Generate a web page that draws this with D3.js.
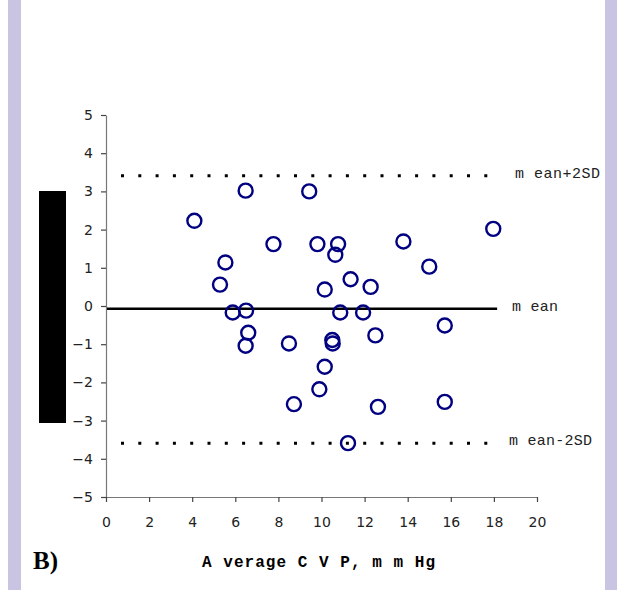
<!DOCTYPE html>
<html>
<head>
<meta charset="utf-8">
<script src="https://cdn.jsdelivr.net/npm/d3@7"></script>
<style>
  body { margin: 0; background: #fff; }
  svg { display: block; }
</style>
</head>
<body>
<div id="chart"></div>
<script>
// Bland-Altman Daten (Mittelwert CVP vs. Differenz)
const avgCvp = [4.1, 6.48, 9.43, 7.77, 9.81, 10.77, 10.64, 13.8, 15.0, 17.97,
  5.54, 5.29, 11.35, 12.28, 10.15, 5.88, 6.5, 10.87, 11.93, 6.6,
  6.48, 8.49, 10.5, 10.52, 12.5, 15.72, 10.15, 9.9, 8.72, 12.62, 15.72, 11.23];
const diffCvp = [2.23, 3.02, 3.0, 1.62, 1.62, 1.62, 1.34, 1.69, 1.03, 2.02,
  1.14, 0.56, 0.7, 0.5, 0.43, -0.17, -0.12, -0.17, -0.17, -0.7,
  -1.04, -0.98, -0.89, -0.98, -0.77, -0.51, -1.59, -2.18, -2.57, -2.64, -2.51, -3.59];

const xTicks = [0, 2, 4, 6, 8, 10, 12, 14, 16, 18, 20];
const yTicks = [-5, -4, -3, -2, -1, 0, 1, 2, 3, 4, 5];

// Referenzlinien: Mittelwert und +/- 2SD
const refLines = [
  { name: "mean+2SD", label: "m ean+2SD", value: 3.41, dotted: true },
  { name: "mean", label: "m ean", value: -0.07, dotted: false },
  { name: "mean-2SD", label: "m ean-2SD", value: -3.59, dotted: true }
];

const width = 617, height = 590;

const svg = d3.select("#chart").append("svg")
  .attr("width", width)
  .attr("height", height);

// seitliche Balken (Folienrahmen)
svg.append("rect").attr("x", 8).attr("y", 0).attr("width", 13).attr("height", height).attr("fill", "#c8c4e2");
svg.append("rect").attr("x", 605).attr("y", 0).attr("width", 12).attr("height", height).attr("fill", "#c8c4e2");

// schwarzer Block links (verdeckte Achsenbeschriftung)
svg.append("rect").attr("x", 39).attr("y", 191).attr("width", 27).attr("height", 232).attr("fill", "#000");

const x = d3.scaleLinear().domain([0, 20]).range([106, 537]);
const y = d3.scaleLinear().domain([-5, 5]).range([497, 115]);

const yAxis = svg.append("g")
  .attr("transform", `translate(${x(0)},0)`)
  .call(d3.axisLeft(y).tickValues(yTicks).tickSize(5).tickSizeOuter(0).tickPadding(8));

const xAxis = svg.append("g")
  .attr("transform", `translate(0,${y(-5)})`)
  .call(d3.axisBottom(x).tickValues(xTicks).tickSize(5).tickSizeOuter(0).tickPadding(15));

[xAxis, yAxis].forEach(ax => {
  ax.select(".domain").attr("stroke", "#777").attr("stroke-width", 1.2);
  ax.selectAll(".tick line").attr("stroke", "#444").attr("stroke-width", 1.2);
  ax.selectAll(".tick text")
    .attr("fill", "#222")
    .attr("font-family", "DejaVu Sans, Verdana, sans-serif")
    .attr("font-size", "14px");
});

// Referenzlinien
const lineEnd = { dotted: 17.8, solid: 18.15 };
refLines.forEach(r => {
  const ln = svg.append("line")
    .attr("x1", x(0) + 1)
    .attr("x2", x(r.dotted ? lineEnd.dotted : lineEnd.solid))
    .attr("y1", y(r.value))
    .attr("y2", y(r.value))
    .attr("stroke", "#000");
  if (r.dotted) {
    ln.attr("stroke-width", 3).attr("stroke-dasharray", "3 14.3").attr("stroke-dashoffset", -14);
  } else {
    ln.attr("stroke-width", 2.5);
  }
});

// Beschriftungen der Referenzlinien
const labelPos = {
  "mean+2SD": { x: 515, len: 85 },
  "mean": { x: 512, len: 46 },
  "mean-2SD": { x: 509, len: 83 }
};
refLines.forEach(r => {
  svg.append("text")
    .attr("x", labelPos[r.name].x)
    .attr("y", y(r.value) + 2)
    .attr("textLength", labelPos[r.name].len)
    .attr("lengthAdjust", "spacing")
    .attr("font-family", "Liberation Mono, Courier New, monospace")
    .attr("font-size", "15px")
    .attr("fill", "#222")
    .text(r.label);
});

// Punkte
svg.append("g")
  .selectAll("circle")
  .data(avgCvp.map((d, i) => ({ avg: d, diff: diffCvp[i] })))
  .enter().append("circle")
  .attr("cx", d => x(d.avg))
  .attr("cy", d => y(d.diff))
  .attr("r", 7)
  .attr("fill", "none")
  .attr("stroke", "#000080")
  .attr("stroke-width", 2.4);

// Achsentitel
svg.append("text")
  .attr("x", 202)
  .attr("y", 567)
  .attr("textLength", 233)
  .attr("lengthAdjust", "spacing")
  .attr("font-family", "Liberation Mono, Courier New, monospace")
  .attr("font-weight", "bold")
  .attr("font-size", "16px")
  .attr("fill", "#000")
  .text("A verage C V P, m m Hg");

svg.append("text")
  .attr("x", 33)
  .attr("y", 569)
  .attr("font-family", "Liberation Serif, Times New Roman, serif")
  .attr("font-weight", "bold")
  .attr("font-size", "25px")
  .attr("fill", "#000")
  .text("B)");
</script>
</body>
</html>
